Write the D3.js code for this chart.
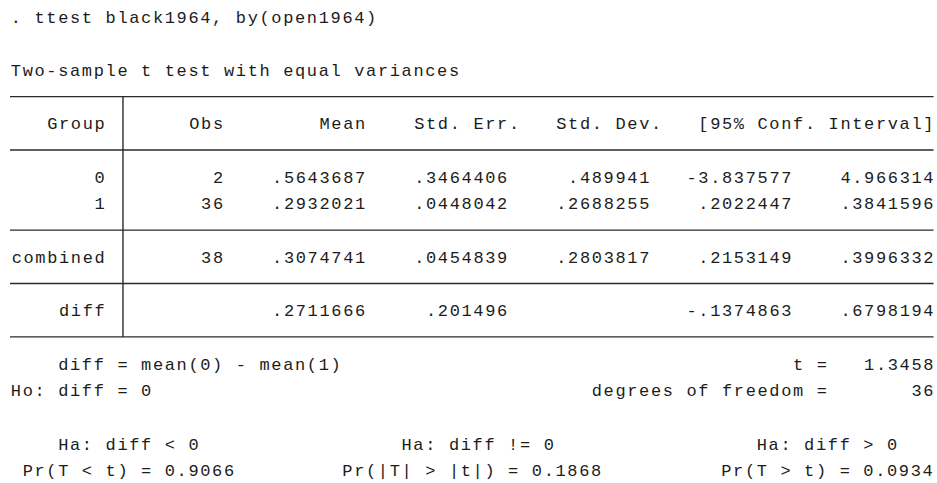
<!DOCTYPE html>
<html>
<head>
<meta charset="utf-8">
<script src="https://cdn.jsdelivr.net/npm/d3@7"></script>
<style>
  html, body { margin: 0; padding: 0; background: #ffffff; }
  svg { display: block; }
  text { font-family: "Liberation Mono", "Courier New", monospace; font-size: 17px; letter-spacing: 1.64px; fill: #1c1c1c; white-space: pre; }
</style>
</head>
<body>
<svg id="chart" width="937" height="483"></svg>
<script>
// ---- data ----
const command = ". ttest black1964, by(open1964)";
const title = "Two-sample t test with equal variances";
const headers = ["Group", "Obs", "Mean", "Std. Err.", "Std. Dev.", "[95% Conf. Interval]"];
const groups = ["0", "1", "combined", "diff"];
const obs = [2, 36, 38, null];
const means = [0.5643687, 0.2932021, 0.3074741, 0.2711666];
const stdErr = [0.3464406, 0.0448042, 0.0454839, 0.201496];
const stdDev = [0.489941, 0.2688255, 0.2803817, null];
const ciLow = [-3.837577, 0.2022447, 0.2153149, -0.1374863];
const ciHigh = [4.966314, 0.3841596, 0.3996332, 0.6798194];
const diffDef = "diff = mean(0) - mean(1)";
const nullHyp = "Ho: diff = 0";
const tStat = 1.3458;
const dof = 36;
const altHyps = ["Ha: diff < 0", "Ha: diff != 0", "Ha: diff > 0"];
const probLabels = ["Pr(T < t)", "Pr(|T| > |t|)", "Pr(T > t)"];
const pValues = [0.9066, 0.1868, 0.0934];

// ---- layout via scales (character grid) ----
const svg = d3.select("#chart");
const charW = 11.84;
const ls = charW - 0.6 * 17;           // letter spacing added to each glyph
const x = d3.scaleLinear().domain([0, 78]).range([10, 10 + 78 * charW]);
const y = d3.scaleLinear().domain([0, 17]).range([22.5, 22.5 + 17 * 26.7]);
const ruleY = n => y(n) - 6;

const fmt = v => (v === null || v === undefined) ? "" : String(v).replace(/^(-?)0\./, "$1.");

function put(txt, col, line, anchor) {
  const end = anchor === "end";
  svg.append("text")
    .attr("x", x(col) + ls / 2 + (end ? ls / 2 : 0))
    .attr("y", y(line))
    .attr("text-anchor", anchor || "start")
    .attr("xml:space", "preserve")
    .text(txt);
}

// header texts
put(command, 0, 0);
put(title, 0, 2);

// table rules
const ruleLines = [3, 5, 8, 10, 12];
svg.selectAll("line.rule").data(ruleLines).enter().append("line")
  .attr("class", "rule")
  .attr("x1", x(0)).attr("x2", x(78))
  .attr("y1", d => ruleY(d)).attr("y2", d => ruleY(d))
  .attr("stroke", "#2a2a2a").attr("stroke-width", 1.4);

svg.append("line")
  .attr("x1", x(9.5) + 0.5).attr("x2", x(9.5) + 0.5)
  .attr("y1", ruleY(3)).attr("y2", ruleY(12))
  .attr("stroke", "#2a2a2a").attr("stroke-width", 1.4);

// column right-edges (chars)
const headerEnds = [8, 18, 30, 43, 55, 78];
headers.forEach((h, i) => put(h, headerEnds[i], 4, "end"));

const valueEnds = [8, 18, 30, 42, 54, 66, 78];
const rowLines = [6, 7, 9, 11];
groups.forEach((g, i) => {
  const cells = [g, obs[i] === null ? "" : String(obs[i]), fmt(means[i]), fmt(stdErr[i]), fmt(stdDev[i]), fmt(ciLow[i]), fmt(ciHigh[i])];
  cells.forEach((c, j) => { if (c) put(c, valueEnds[j], rowLines[i], "end"); });
});

// test summary
put(diffDef, 4, 13);
put("t = " + d3.format(">8")(tStat.toFixed(4)), 78, 13, "end");
put(nullHyp, 0, 14);
put("degrees of freedom = " + d3.format(">8")(String(dof)), 78, 14, "end");

const altStarts = [4, 33, 63];
altHyps.forEach((h, i) => put(h, altStarts[i], 16));
const probStarts = [1, 28, 60];
probLabels.forEach((p, i) => put(p + " = " + pValues[i].toFixed(4), probStarts[i], 17));
</script>
</body>
</html>
